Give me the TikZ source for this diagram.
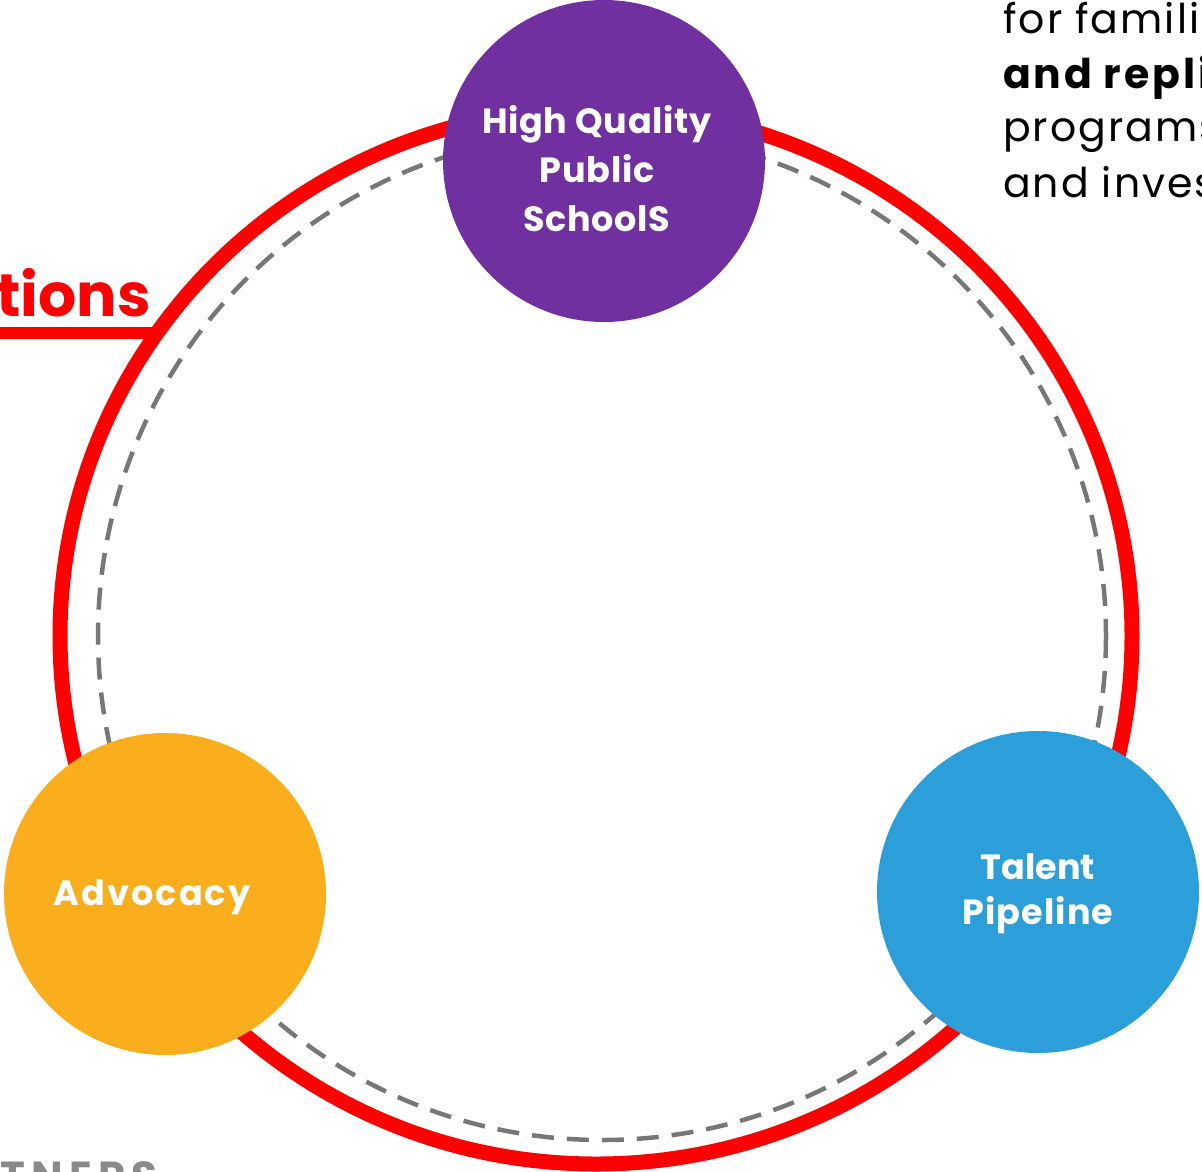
\documentclass[tikz,border=0pt]{standalone}
\usepackage{fontspec}
\setmainfont{Poppins}
\definecolor{hqpurple}{HTML}{7030A0}
\definecolor{advorange}{HTML}{FBAE1D}
\definecolor{talblue}{HTML}{2C9FDA}
\definecolor{ringred}{HTML}{FF0000}
\definecolor{dashgray}{HTML}{777777}
\definecolor{partgray}{HTML}{8A8A8A}
\tikzset{
  bubble/.style={circle, inner sep=0pt, minimum size=322pt, draw=none},
  blabel/.style={text=white, font=\fontsize{35}{35}\selectfont\bfseries, inner sep=0pt, anchor=base},
  sidetext/.style={text=black, font=\fontsize{41}{41}\selectfont\addfontfeature{LetterSpace=5}, inner sep=0pt, anchor=base west},
}
\begin{document}
\begin{tikzpicture}[x=1pt,y=-1pt]
\useasboundingbox (0,0) rectangle (1202,1171);
\clip (0,0) rectangle (1202,1171);
% dashed inner ring
\draw[dashgray, line width=4.5pt, dash pattern=on 22pt off 13pt] (602,636) circle (504);
% red outer ring
\draw[ringred, line width=15pt] (596,636) ellipse [x radius=536, y radius=528];
% red underline bar
\coordinate (barL) at (-5,333);
\coordinate (barR) at (158,333);
\draw[ringred, line width=12pt] (barL) -- (barR);
\node[text=ringred, font=\fontsize{60}{60}\selectfont\bfseries, inner sep=0pt, anchor=base east] (tions) at (151,316) {tions};
% bubbles
\node[bubble, fill=hqpurple] (hq) at (604,161) {};
\node[bubble, fill=advorange] (adv) at (165,894) {};
\node[bubble, fill=talblue] (tal) at (1038,892) {};
% labels
\node[blabel, font=\fontsize{35}{35}\selectfont\bfseries\addfontfeature{LetterSpace=2}] (hq1) at (597,133) {High Quality};
\node[blabel, font=\fontsize{35}{35}\selectfont\bfseries\addfontfeature{LetterSpace=2}] (hq2) at (597,182) {Public};
\node[blabel, font=\fontsize{35}{35}\selectfont\bfseries\addfontfeature{LetterSpace=2}] (hq3) at (597,231) {SchoolS};
\node[blabel, font=\fontsize{35}{35}\selectfont\bfseries\addfontfeature{LetterSpace=6}] (adv1) at (152,905) {Advocacy};
\node[blabel] (tal1) at (1038,879) {Talent};
\node[blabel, font=\fontsize{35}{35}\selectfont\bfseries\addfontfeature{LetterSpace=3}] (tal2) at (1038,924) {Pipeline};
% top right text
\node[sidetext] (s1) at (1003,33) {for families};
\node[sidetext, font=\fontsize{41}{41}\selectfont\bfseries\addfontfeature{LetterSpace=7}] (s2) at (1003,88) {and replicate};
\node[sidetext] (s3) at (1003,141) {programs};
\node[sidetext] (s4) at (1003,197) {and invest};
% bottom partial text
\node[text=partgray, font=\fontsize{42}{42}\selectfont\bfseries\addfontfeature{LetterSpace=15}, inner sep=0pt, anchor=base east] (partners) at (158,1191) {TNERS};
\end{tikzpicture}
\end{document}
